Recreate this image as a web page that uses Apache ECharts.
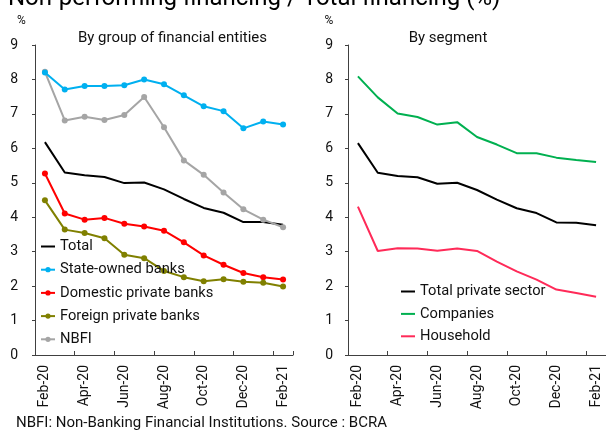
<!DOCTYPE html>
<html>
<head>
<meta charset="utf-8">
<script src="https://cdn.jsdelivr.net/npm/echarts@6/dist/echarts.min.js"></script>
<style>
html,body{margin:0;padding:0;background:#fff;}
#c{width:606px;height:430px;}
</style>
</head>
<body>
<div id="c"></div>
<script>
const months = ['Feb-20','Mar-20','Apr-20','May-20','Jun-20','Jul-20','Aug-20','Sep-20','Oct-20','Nov-20','Dec-20','Jan-21','Feb-21'];
const total = [6.18, 5.30, 5.22, 5.17, 4.99, 5.01, 4.81, 4.53, 4.27, 4.13, 3.86, 3.86, 3.78];
const stateOwned = [8.20, 7.71, 7.81, 7.81, 7.83, 8.00, 7.86, 7.54, 7.22, 7.08, 6.58, 6.78, 6.69];
const domesticPrivate = [5.27, 4.11, 3.93, 3.98, 3.81, 3.73, 3.61, 3.27, 2.89, 2.62, 2.38, 2.26, 2.19];
const foreignPrivate = [4.49, 3.64, 3.54, 3.39, 2.91, 2.81, 2.44, 2.26, 2.14, 2.20, 2.13, 2.10, 1.99];
const nbfi = [8.22, 6.81, 6.92, 6.82, 6.97, 7.49, 6.61, 5.65, 5.23, 4.72, 4.23, 3.93, 3.71];
const totalPrivate = [6.15, 5.29, 5.20, 5.16, 4.97, 5.00, 4.79, 4.51, 4.26, 4.12, 3.85, 3.84, 3.77];
const companies = [8.09, 7.48, 7.01, 6.91, 6.69, 6.76, 6.33, 6.11, 5.86, 5.86, 5.73, 5.66, 5.60];
const household = [4.31, 3.02, 3.10, 3.09, 3.03, 3.09, 3.02, 2.71, 2.43, 2.19, 1.90, 1.80, 1.69];

const FONT = 'Roboto';
const AXIS = '#404040';
const TXT = '#111';

function xAxis(gi) {
  return {
    type: 'category', gridIndex: gi, data: months, boundaryGap: true,
    axisLine: {lineStyle: {color: AXIS, width: 1}},
    axisTick: {show: true, inside: true, length: 4, interval: 1, lineStyle: {color: AXIS}},
    axisLabel: {interval: 1, rotate: 90, margin: 10, fontSize: 14, fontFamily: FONT, color: TXT},
    splitLine: {show: false}
  };
}
function yAxis(gi, margin) {
  return {
    type: 'value', gridIndex: gi, min: 0, max: 9, interval: 1,
    axisLine: {show: true, lineStyle: {color: AXIS, width: 1}},
    axisTick: {show: true, inside: false, length: 3, lineStyle: {color: AXIS}},
    axisLabel: {margin: margin, fontSize: 14, fontFamily: FONT, color: TXT},
    splitLine: {show: false}
  };
}
function line(name, data, color, gi, marker) {
  return {
    type: 'line', name: name, data: data, xAxisIndex: gi, yAxisIndex: gi,
    symbol: marker ? 'circle' : 'none', symbolSize: 6, showSymbol: marker,
    lineStyle: {color: color, width: 2}, itemStyle: {color: color},
    animation: false
  };
}
const noDot = {opacity: 0};
const legendText = {fontSize: 14.7, fontFamily: FONT, color: TXT};

const chart = echarts.init(document.getElementById('c'), null, {renderer: 'canvas'});
chart.setOption({
  backgroundColor: '#fff',
  animation: false,
  grid: [
    {left: 35, top: 45, width: 258, height: 310},
    {left: 348, top: 45, width: 261, height: 310}
  ],
  xAxis: [xAxis(0), xAxis(1)],
  yAxis: [yAxis(0, 17), yAxis(1, 15)],
  legend: [
    {
      orient: 'vertical', left: 40, top: 239, padding: 0, itemWidth: 14, itemHeight: 6.5, itemGap: 8.2,
      textStyle: legendText,
      data: [{name: 'Total', itemStyle: noDot}, 'State-owned banks', 'Domestic private banks', 'Foreign private banks', 'NBFI']
    },
    {
      orient: 'vertical', left: 400, top: 284, padding: 0, itemWidth: 14, itemHeight: 6.5, itemGap: 7.4,
      textStyle: legendText,
      data: [
        {name: 'Total private sector', itemStyle: noDot},
        {name: 'Companies', itemStyle: noDot},
        {name: 'Household', itemStyle: noDot}
      ]
    }
  ],
  series: [
    line('Total', total, '#000000', 0, false),
    line('NBFI', nbfi, '#A5A5A5', 0, true),
    line('State-owned banks', stateOwned, '#00B0F0', 0, true),
    line('Domestic private banks', domesticPrivate, '#FF0000', 0, true),
    line('Foreign private banks', foreignPrivate, '#808000', 0, true),
    line('Total private sector', totalPrivate, '#000000', 1, false),
    line('Companies', companies, '#00B050', 1, false),
    line('Household', household, '#FF2A58', 1, false)
  ],
  graphic: [
    {type: 'text', x: 8, y: -1, style: {text: 'Non-performing financing / Total financing (%)', fontSize: 24, fontFamily: FONT, fill: '#000', align: 'left', verticalAlign: 'middle'}},
    {type: 'text', x: 21.5, y: 21, style: {text: '%', fontSize: 12, fontFamily: FONT, fill: TXT, align: 'center', verticalAlign: 'middle'}},
    {type: 'text', x: 329, y: 21, style: {text: '%', fontSize: 12, fontFamily: FONT, fill: TXT, align: 'center', verticalAlign: 'middle'}},
    {type: 'text', x: 172.5, y: 38, style: {text: 'By group of financial entities', fontSize: 15, fontFamily: FONT, fill: TXT, align: 'center', verticalAlign: 'middle'}},
    {type: 'text', x: 448, y: 38, style: {text: 'By segment', fontSize: 15, fontFamily: FONT, fill: TXT, align: 'center', verticalAlign: 'middle'}},
    {type: 'text', x: 16, y: 423, style: {text: 'NBFI: Non-Banking Financial Institutions. Source : BCRA', fontSize: 15, fontFamily: FONT, fill: TXT, align: 'left', verticalAlign: 'middle'}}
  ]
});
</script>
</body>
</html>
